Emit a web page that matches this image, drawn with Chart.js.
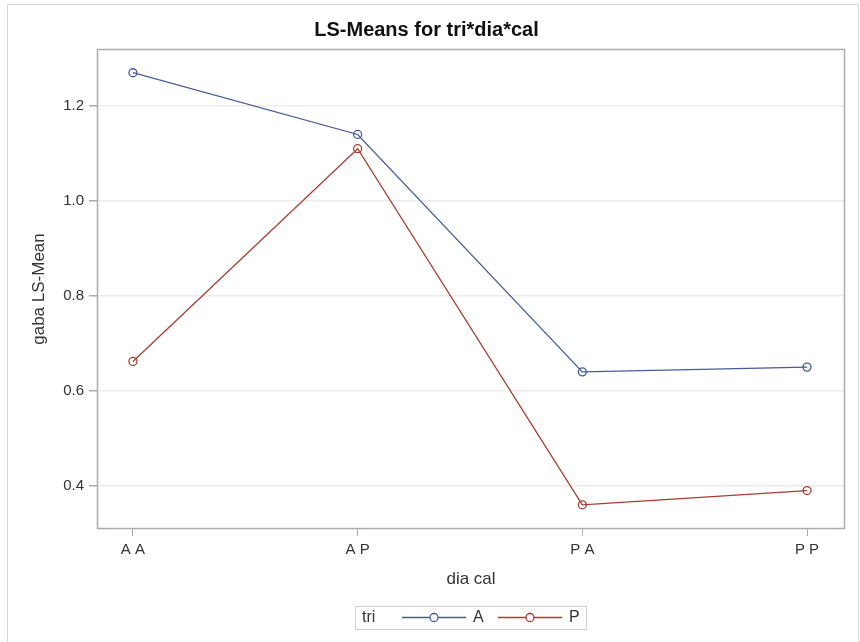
<!DOCTYPE html>
<html>
<head>
<meta charset="utf-8">
<script src="https://cdn.jsdelivr.net/npm/chart.js@4.4.1/dist/chart.umd.min.js"></script>
<style>
  body { margin: 0; background: #fff; overflow: hidden; }
  #frame { position: absolute; left: 7px; top: 4px; width: 850px; height: 650px; border: 1px solid #d6d6d6; background: #fff; }
  #mycanvas { display: block; }
</style>
</head>
<body>
<div id="frame"><canvas id="mycanvas" width="850" height="637"></canvas></div>
<script>
// data
var categories = ["A A", "A P", "P A", "P P"];
var triA = [1.27, 1.14, 0.64, 0.65];
var triP = [0.662, 1.11, 0.36, 0.39];
var yTicks = [0.4, 0.6, 0.8, 1.0, 1.2];
var seriesNames = ["A", "P"];

var blue = '#485a99';
var red = '#a63d31';
var axisGray = '#a9acb0';
var textCol = '#333333';
var fam = "'Liberation Sans', Arial, sans-serif";

function toPoints(arr) {
	return arr.map(function(v, i) { return { x: i, y: v }; });
}

// frame round the plot area
var framePlugin = {
	id: 'frame',
	beforeDatasetsDraw: function(chart) {
		var a = chart.chartArea, c = chart.ctx;
		c.save();
		c.strokeStyle = axisGray;
		c.lineWidth = 1.5;
		c.strokeRect(Math.round(a.left) + 0.5, Math.round(a.top) + 0.5, Math.round(a.right - a.left) - 1, Math.round(a.bottom - a.top) - 1);
		c.restore();
	}
};

// SAS style legend box at the bottom
var legendPlugin = {
	id: 'saslegend',
	afterDraw: function(chart) {
		var c = chart.ctx;
		var y = 612.5;
		c.save();
		c.strokeStyle = '#cfcfcf';
		c.lineWidth = 1;
		c.strokeRect(347.5, 601.5, 231, 23);
		c.font = '16px ' + fam;
		c.fillStyle = textCol;
		c.textBaseline = 'middle';
		c.textAlign = 'left';
		c.fillText('tri', 354, y);
		var x0 = [394, 490];
		chart.data.datasets.forEach(function(ds, i) {
			c.strokeStyle = ds.borderColor;
			c.lineWidth = 1.3;
			c.beginPath();
			c.moveTo(x0[i], y);
			c.lineTo(x0[i] + 64, y);
			c.stroke();
			c.beginPath();
			c.fillStyle = '#fff';
			c.arc(x0[i] + 32, y, 4, 0, Math.PI * 2);
			c.fill();
			c.stroke();
			c.fillStyle = textCol;
			c.fillText(ds.label, x0[i] + 71, y);
		});
		c.restore();
	}
};

var chartdata = {
	datasets: [
		{
			label: seriesNames[0],
			data: toPoints(triA),
			borderColor: blue,
			backgroundColor: 'rgba(0,0,0,0)',
			borderWidth: 1.3,
			pointRadius: 4,
			pointBorderWidth: 1.3,
			pointBackgroundColor: 'rgba(0,0,0,0)',
			tension: 0
		},
		{
			label: seriesNames[1],
			data: toPoints(triP),
			borderColor: red,
			backgroundColor: 'rgba(0,0,0,0)',
			borderWidth: 1.3,
			pointRadius: 4,
			pointBorderWidth: 1.3,
			pointBackgroundColor: 'rgba(0,0,0,0)',
			tension: 0
		}
	]
};

var options = {
	responsive: false,
	animation: false,
	layout: { padding: { left: 0, right: 13, top: 0, bottom: 47 } },
	plugins: {
		legend: { display: false },
		tooltip: { enabled: false },
		title: {
			display: true,
			text: 'LS-Means for tri*dia*cal',
			color: '#111',
			font: { family: fam, size: 20, weight: 'bold' },
			padding: { top: 13, bottom: 7 }
		}
	},
	scales: {
		x: {
			type: 'linear',
			min: -0.16,
			max: 3.169,
			afterFit: function(s) { s.height = 66; },
			afterBuildTicks: function(s) {
				s.ticks = categories.map(function(c, i) { return { value: i }; });
			},
			ticks: {
				color: textCol,
				font: { family: fam, size: 15 },
				padding: 5,
				maxRotation: 0,
				callback: function(v) { return categories[v]; }
			},
			grid: { drawOnChartArea: false, drawTicks: true, tickLength: 7, color: axisGray },
			border: { display: false },
			title: {
				display: true,
				text: 'dia cal',
				color: textCol,
				font: { family: fam, size: 17 },
				padding: { top: 0, bottom: 5 }
			}
		},
		y: {
			min: 0.309,
			max: 1.32,
			afterFit: function(s) { s.width = 89; },
			afterBuildTicks: function(s) {
				s.ticks = yTicks.map(function(v) { return { value: v }; });
			},
			ticks: {
				color: textCol,
				font: { family: fam, size: 15 },
				padding: 5,
				callback: function(v) { return v.toFixed(1); }
			},
			grid: { color: '#ececec', tickColor: axisGray, tickLength: 8, lineWidth: 1.5 },
			border: { display: false },
			title: {
				display: true,
				text: 'gaba LS-Mean',
				color: textCol,
				font: { family: fam, size: 17 },
				padding: { top: 21, bottom: 0 }
			}
		}
	}
};

var ctx = document.getElementById('mycanvas');
var lineGraph = new Chart(ctx, {
	type: 'line',
	data: chartdata,
	options: options,
	plugins: [framePlugin, legendPlugin]
});
</script>
</body>
</html>
